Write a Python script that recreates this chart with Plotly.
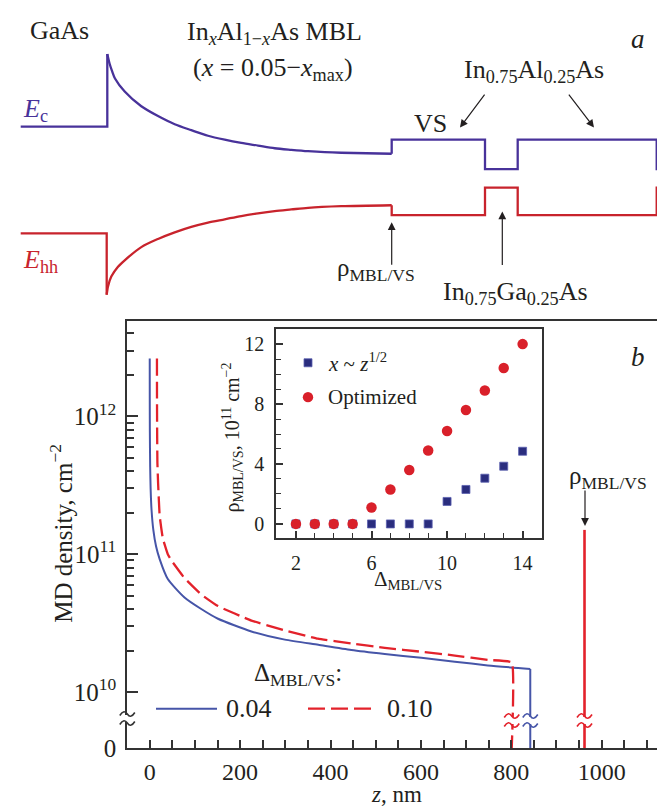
import plotly.graph_objects as go

W, H = 665, 811
FONT = "Liberation Serif, Times New Roman, serif"
INK = "#231f20"
AX = "#333333"

# ---------------- panel a: schematic band diagram (arbitrary units) ----------------
EC_POS = [12.7, 99.3, 99.3, 101.7, 104, 107, 116.7, 133.3, 150, 166.7, 183.3, 200, 216.7,
          233.3, 250, 266.7, 283.3, 300, 316.7, 333.3, 383.7, 383.7, 477, 477, 509.7, 509.7,
          648.7, 648.7, 660]
EC_LEV = [120.7, 120.7, 46.7, 57, 64, 71.7, 85, 100, 110, 118.3, 124.3, 130, 134, 137.3, 140,
          142.7, 144.3, 145.7, 146.7, 147.3, 148.3, 134, 134, 164, 164, 134, 134, 164, 164]
EHH_POS = [12.7, 98.7, 98.7, 100, 103.3, 110, 116.7, 133.3, 150, 166.7, 183.3, 200, 216.7,
           233.3, 250, 266.7, 283.3, 300, 333.3, 383.7, 383.7, 477, 477, 509.7, 509.7, 648.7,
           648.7, 660]
EHH_LEV = [229.3, 229.3, 291.7, 283.3, 273.3, 263.3, 256.7, 243.3, 235, 228.3, 222.7, 218.3,
           215, 211.7, 209, 206.7, 205, 203.3, 201.7, 200.7, 210.7, 210.7, 182.7, 182.7, 210.7,
           210.7, 182.7, 182.7]
EC_CURVE = (2, 20)    # index span of the graded (curved) part
EHH_CURVE = (2, 19)

# ---------------- panel b: MD density vs z ----------------
Z_004 = [0.026, 0.1, 0.3, 1, 2, 4, 8, 14, 22, 40, 77, 114, 151, 225, 299, 373, 446, 520,
         601, 675, 748, 842]
RHO_004 = [2.63e12, 1.35e12, 7.8e11, 4.3e11, 3.0e11, 2.1e11, 1.5e11, 1.14e11, 9.2e10, 6.6e10,
           4.85e10, 4.0e10, 3.4e10, 2.75e10, 2.4e10, 2.2e10, 2.02e10, 1.89e10, 1.77e10,
           1.66e10, 1.56e10, 1.47e10]
Z_010 = [16, 16.1, 16.4, 17, 18.5, 22, 29, 40, 48, 77, 114, 151, 225, 299, 372, 446, 520,
         601, 675, 748, 801]
RHO_010 = [2.63e12, 1.4e12, 8e11, 4.6e11, 3.3e11, 1.9e11, 1.3e11, 1.0e11, 9.0e10, 6.7e10,
           5.1e10, 4.2e10, 3.3e10, 2.8e10, 2.44e10, 2.25e10, 2.09e10, 1.96e10, 1.84e10,
           1.71e10, 1.64e10]
Z_SPIKE = 962
RHO_SPIKE = 1.5e11
ZERO_LEVEL = 10 ** 9.594          # bottom of the broken axis, labelled "0"

# ---------------- inset ----------------
DELTA = [2, 3, 4, 5, 6, 7, 8, 9, 10, 11, 12, 13, 14]
RHO_SQRT = [0, 0, 0, 0, 0, 0, 0, 0, 1.5, 2.3, 3.05, 3.85, 4.85]
RHO_OPT = [0, 0, 0, 0, 1.1, 2.3, 3.6, 4.9, 6.2, 7.6, 8.9, 10.4, 12.0]

C_EC = "#48329a"
C_EHH = "#c8232c"
C_BLUE = "#4655a8"
C_RED = "#e3222b"
C_SQ = "#2a2d7e"
C_CIRC = "#d9202a"


def fx(px):
    return px / W


def fy(py):
    return 1 - py / H


fig = go.Figure()


def band(pos, lev, span, color):
    a, b = span
    parts = [(pos[:a + 1], lev[:a + 1], "linear"),
             (pos[a:b + 1], lev[a:b + 1], "spline"),
             (pos[b:], lev[b:], "linear")]
    for xs, ys, shape in parts:
        fig.add_trace(go.Scatter(x=xs, y=ys, mode="lines",
                                 line=dict(color=color, width=2.3, shape=shape, smoothing=0.8),
                                 xaxis="x3", yaxis="y3", hoverinfo="skip"))


band(EC_POS, EC_LEV, EC_CURVE, C_EC)
band(EHH_POS, EHH_LEV, EHH_CURVE, C_EHH)

# panel b: smooth curves, then the vertical drops to the (broken) zero level
fig.add_trace(go.Scatter(x=Z_004, y=RHO_004, mode="lines",
                         line=dict(color=C_BLUE, width=2, shape="spline", smoothing=0.6),
                         xaxis="x", yaxis="y"))
fig.add_trace(go.Scatter(x=[Z_004[-1], Z_004[-1]], y=[RHO_004[-1], ZERO_LEVEL], mode="lines",
                         line=dict(color=C_BLUE, width=2), xaxis="x", yaxis="y"))
fig.add_trace(go.Scatter(x=Z_010 + [Z_010[-1]], y=RHO_010 + [ZERO_LEVEL], mode="lines",
                         line=dict(color=C_RED, width=2.3, dash="17px,6px", shape="spline",
                                   smoothing=0.3),
                         xaxis="x", yaxis="y"))
fig.add_trace(go.Scatter(x=[Z_SPIKE, Z_SPIKE], y=[RHO_SPIKE, ZERO_LEVEL], mode="lines",
                         line=dict(color=C_RED, width=2.6), xaxis="x", yaxis="y"))

# inset
fig.add_trace(go.Scatter(x=DELTA, y=RHO_SQRT, mode="markers",
                         marker=dict(symbol="square", size=8, color=C_SQ,
                                     line=dict(color="#5a5fb0", width=0.8)),
                         xaxis="x2", yaxis="y2"))
fig.add_trace(go.Scatter(x=DELTA, y=RHO_OPT, mode="markers",
                         marker=dict(symbol="circle", size=10.5, color=C_CIRC, line=dict(width=0)),
                         xaxis="x2", yaxis="y2"))

minor_log = [k * 10 ** e for e in (10, 11) for k in range(2, 10)] + [2e12, 3e12, 4e12]

axis_common = dict(showline=True, mirror=True, linewidth=2, linecolor=AX, showgrid=False,
                   zeroline=False, ticks="inside", tickcolor=AX, tickwidth=1.6)

fig.update_layout(
    width=W, height=H, autosize=False,
    margin=dict(l=0, r=0, t=0, b=0),
    paper_bgcolor="white", plot_bgcolor="white",
    showlegend=False,
    font=dict(family=FONT, color=INK, size=25),
    xaxis=dict(domain=[fx(119.3), fx(658)], range=[-49.6, 1142.3], anchor="y",
               tickvals=[0, 200, 400, 600, 800, 1000], ticklen=8,
               minor=dict(dtick=50, tick0=0, ticks="inside", ticklen=8, tickcolor=AX, tickwidth=1.6),
               tickfont=dict(size=24, family=FONT), ticklabelstandoff=1, **axis_common),
    yaxis=dict(domain=[fy(753), fy(318)], type="log", range=[9.594, 12.695], anchor="x",
               tickvals=[ZERO_LEVEL, 1e10, 1e11, 1e12],
               ticktext=["0", "10<sup>10</sup>", "10<sup>11</sup>", "10<sup>12</sup>"],
               ticklen=11,
               minor=dict(tickvals=minor_log, ticks="inside", ticklen=7, tickcolor=AX, tickwidth=1.6),
               tickfont=dict(size=25, family=FONT), ticklabelstandoff=4, **axis_common),
    xaxis2=dict(domain=[fx(268.3), fx(533.5)], range=[0.96, 15.0], anchor="y2",
                tickvals=[2, 6, 10, 14], ticklen=7,
                minor=dict(dtick=1, tick0=0, ticks="inside", ticklen=5, tickcolor=AX, tickwidth=1.4),
                tickfont=dict(size=20, family=FONT), ticklabelstandoff=6, **axis_common),
    yaxis2=dict(domain=[fy(539), fy(326.3)], range=[-0.92, 13.03], anchor="x2",
                tickvals=[0, 4, 8, 12], ticklen=7,
                minor=dict(dtick=1, tick0=0, ticks="inside", ticklen=5, tickcolor=AX, tickwidth=1.4),
                tickfont=dict(size=20, family=FONT), ticklabelstandoff=6, **axis_common),
    xaxis3=dict(domain=[0, 1], range=[0, W], anchor="y3", visible=False),
    yaxis3=dict(domain=[fy(300), 1], range=[300, 0], anchor="x3", visible=False),
)

ann = []


def text(px, py, s, size=25, color=INK, xanchor="center", angle=0):
    ann.append(dict(x=fx(px), y=fy(py), xref="paper", yref="paper", text=s, showarrow=False,
                    xanchor=xanchor, yanchor="middle", textangle=angle,
                    font=dict(size=size, color=color, family=FONT)))


def arrow(hx, hy, tx, ty):
    ann.append(dict(x=fx(hx), y=fy(hy), xref="paper", yref="paper", text="", showarrow=True,
                    ax=tx - hx, ay=ty - hy, axref="pixel", ayref="pixel",
                    arrowhead=2, arrowsize=1.3, arrowwidth=1.2, arrowcolor=INK, standoff=0))


# panel a texts
text(51.7, 23, "GaAs", 26)
text(266, 25, "In<sub><i>x</i></sub>Al<sub>1\u2212<i>x</i></sub>As MBL", 26)
text(265, 62, "(<i>x</i> = 0.05\u2212<i>x</i><sub>max</sub>)", 26)
text(630, 32, "<i>a</i>", 27)
text(526, 64, "In<sub>0.75</sub>Al<sub>0.25</sub>As", 26)
text(422, 118, "VS", 26)
text(13, 104, "<i>E</i><sub>c</sub>", 26, C_EC, xanchor="left")
text(13, 257, "<i>E</i><sub>hh</sub>", 26, C_EHH, xanchor="left")
text(368, 266, "\u03c1<sub>MBL/VS</sub>", 25)
text(507, 290, "In<sub>0.75</sub>Ga<sub>0.25</sub>As", 26)
arrow(452, 121.7, 477.7, 87.3)
arrow(586, 121.7, 559.7, 87.3)
arrow(383.7, 218, 383.7, 262)
arrow(494.3, 207, 494.3, 262)

# panel b texts
text(630, 355, "<i>b</i>", 27)
text(600, 478, "\u03c1<sub>MBL/VS</sub>", 25)
arrow(577, 527, 577, 490)
text(53, 535, "MD density, cm<sup>\u22122</sup>", 25, angle=-90)
text(388.5, 800, "<i>z</i>, nm", 23)
text(290, 678, "\u0394<sub>MBL/VS</sub>:", 25)
text(216, 713, "0.04", 26, xanchor="left")
text(377, 713, "0.10", 26, xanchor="left")

# inset texts
text(225, 437, "\u03c1<sub>MBL/VS</sub>, 10<sup>11</sup> cm<sup>\u22122</sup>", 20, angle=-90)
text(400, 582, "\u0394<sub>MBL/VS</sub>", 21)
text(318, 361, "<i>x</i> ~ <i>z</i><sup>1/2</sup>", 21, xanchor="left")
text(318, 396, "Optimized", 21, xanchor="left")

shapes = []
# main legend samples
shapes.append(dict(type="line", xref="paper", yref="paper", x0=fx(148), x1=fx(209),
                   y0=fy(713), y1=fy(713), line=dict(color=C_BLUE, width=2)))
shapes.append(dict(type="line", xref="paper", yref="paper", x0=fx(300), x1=fx(365),
                   y0=fy(713), y1=fy(713), line=dict(color=C_RED, width=2.3, dash="17px,6px")))
# inset legend symbols
shapes.append(dict(type="rect", xref="paper", yref="paper", xsizemode="pixel", ysizemode="pixel",
                   xanchor=fx(300), yanchor=fy(361), x0=-4, x1=4, y0=-4, y1=4,
                   fillcolor=C_SQ, line=dict(color="#5a5fb0", width=0.8)))
shapes.append(dict(type="circle", xref="paper", yref="paper", xsizemode="pixel", ysizemode="pixel",
                   xanchor=fx(300), yanchor=fy(396), x0=-5.2, x1=5.2, y0=-5.2, y1=5.2,
                   fillcolor=C_CIRC, line=dict(width=0)))


def tilde(cy):
    return (f"M-7.5,{cy - 1.5} C-4.5,{cy + 3.5} -2,{cy + 3} 0,{cy} "
            f"S4.5,{cy - 3.5} 7.5,{cy + 1.5}")


def axis_break(xanchor, xref, py, color):
    shapes.append(dict(type="rect", xref=xref, yref="paper", xsizemode="pixel", ysizemode="pixel",
                       xanchor=xanchor, yanchor=fy(py), x0=-9, x1=9, y0=-3.5, y1=3.5,
                       fillcolor="white", line=dict(width=0), layer="above"))
    for cy in (4.5, -4.5):
        shapes.append(dict(type="path", xref=xref, yref="paper", xsizemode="pixel",
                           ysizemode="pixel", xanchor=xanchor, yanchor=fy(py), path=tilde(cy),
                           line=dict(color=color, width=1.6), layer="above"))


axis_break(fx(119.3), "paper", 723, AX)
axis_break(Z_010[-1], "x", 725, C_RED)
axis_break(Z_004[-1], "x", 725, C_BLUE)
axis_break(Z_SPIKE, "x", 725, C_RED)

fig.update_layout(annotations=ann, shapes=shapes)
fig.write_html("out.html")
